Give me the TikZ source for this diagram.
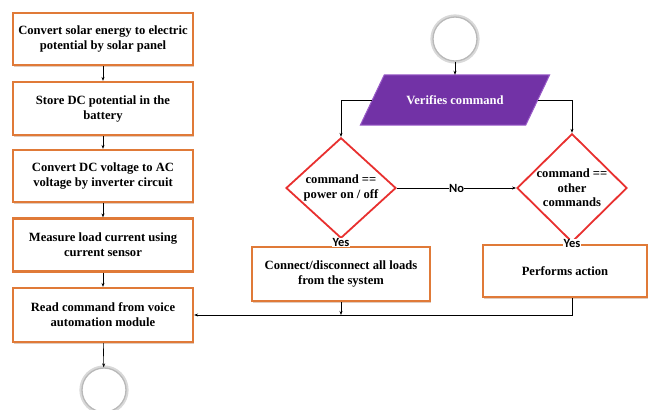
\documentclass[tikz,border=0pt]{standalone}
\usepackage{fontspec}
\setmainfont{Liberation Serif}
\newfontfamily\lblfont{Carlito}
\usetikzlibrary{shapes.geometric,shadows,arrows.meta}
\definecolor{boxorange}{HTML}{E07A38}
\definecolor{dred}{HTML}{E8302F}
\definecolor{vpurple}{HTML}{7232A6}
\definecolor{vborder}{HTML}{9A5CC8}
\begin{document}
\begin{tikzpicture}[x=1pt,y=-1pt,
  stepbox/.style={draw=boxorange,line width=2.2pt,fill=white,rectangle,
    align=center,font=\bfseries\fontsize{12.6}{15}\selectfont,inner sep=1pt,
    drop shadow={shadow xshift=1.2pt,shadow yshift=-1.5pt,fill=boxorange!70!black,opacity=0.3}},
  decision/.style={diamond,draw=dred,line width=1.8pt,fill=white,inner sep=0pt,
    align=center,font=\bfseries\fontsize{12.6}{14.5}\selectfont,minimum width=110pt,minimum height=82pt},
  term/.style={circle,fill=white,draw=gray!55,line width=1.3pt,minimum size=44pt,inner sep=0pt,
    drop shadow={shadow xshift=0pt,shadow yshift=0pt,shadow scale=1.12,fill=gray,opacity=0.3}},
  arr/.style={-{Stealth[length=4pt,width=3pt]},line width=0.6pt},
  ln/.style={line width=0.6pt},
  lbl/.style={fill=white,inner sep=0.5pt,font=\lblfont\bfseries\fontsize{12.5}{13}\selectfont}]
\useasboundingbox (0,0) rectangle (649,410);
% left column
\node[stepbox,minimum width=180pt,minimum height=52pt] (b1) at (103,39) {Convert solar energy to electric\\potential by solar panel};
\node[stepbox,minimum width=180pt,minimum height=53pt] (b2) at (103,108.5) {Store DC potential in the\\battery};
\node[stepbox,minimum width=180pt,minimum height=52pt] (b3) at (103,176) {Convert DC voltage to AC\\voltage by inverter circuit};
\node[stepbox,minimum width=180pt,minimum height=53pt] (b4) at (103,245) {Measure load current using\\current sensor};
\node[stepbox,minimum width=180pt,minimum height=54pt] (b5) at (103,315) {Read command from voice\\automation module};
\node[term] (c2) at (104,390) {};
\draw[arr] (b1) -- (b2);
\draw[arr] (b2) -- (b3);
\draw[arr] (b3) -- (b4);
\draw[arr] (b4) -- (b5);
\draw[arr] (b5) -- (c2);
% right part
\node[term] (c1) at (455,39) {};
\node[minimum width=165pt,minimum height=50pt,inner sep=0pt] (vf) at (455,100) {};
\filldraw[fill=vpurple,draw=vborder,line width=1pt]
  ([xshift=12pt]vf.north west) -- ([xshift=12pt]vf.north east) --
  ([xshift=-12pt]vf.south east) -- ([xshift=-12pt]vf.south west) -- cycle;
\node[text=white,font=\bfseries\fontsize{12.6}{14}\selectfont] at (vf.center) {Verifies command};
\draw[arr] (c1) -- (vf.north);
\node[decision] (d1) at (341,188) {command ==\\power on / off};
\node[decision] (d2) at (572,188) {command ==\\other\\commands};
\draw[arr] (vf.west) -| (d1.north);
\draw[arr] (vf.east) -| (d2.north);
\draw[arr] (d1.east) -- node[lbl] {No} (d2.west);
\node[stepbox,minimum width=178pt,minimum height=54pt] (cd) at (341,274) {Connect/disconnect all loads\\from the system};
\node[stepbox,minimum width=164pt,minimum height=52pt] (pa) at (565,271) {Performs action};
\draw[arr] (d1.south) -- node[lbl,pos=0.45] {Yes} (cd.north);
\draw[arr] (d2.south) -- node[lbl,pos=0.45] {Yes} (d2.south |- pa.north);
\coordinate (j) at (341,315);
\draw[ln] (d2.south |- pa.south) -- (572,315) -- (j);
\draw[arr] (cd.south) -- (j);
\draw[arr] (j) -- (b5.east);
\end{tikzpicture}
\end{document}
